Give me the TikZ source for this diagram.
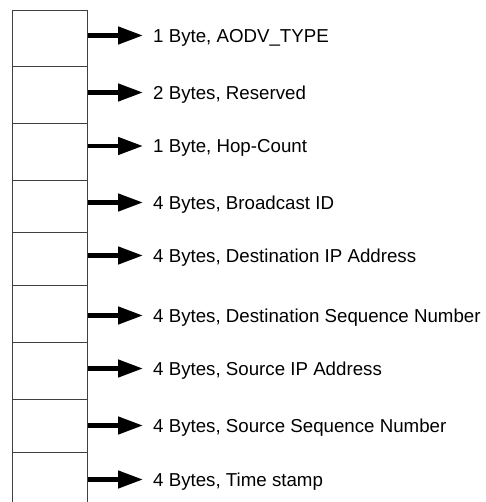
\documentclass[tikz,border=0pt]{standalone}
\usepackage{fontspec}
\setmainfont{Liberation Sans}
\usetikzlibrary{arrows.meta}
\begin{document}
\begin{tikzpicture}[x=1pt,y=-1pt,
  field/.style={draw=black!75, line width=1.1pt, rectangle, minimum width=75.5pt, inner sep=0pt, anchor=north west},
  lbl/.style={anchor=west, inner sep=0pt, text height=13.4pt, text depth=0pt, font=\fontsize{18.7}{22}\selectfont},
  arr/.style={line width=4.5pt, -{Triangle[length=25pt 0 0,width=17pt 0 0]}}]
\clip (0,0) rectangle (485,502);
\fill[white] (0,0) rectangle (485,502);
% boxes
\node[field, minimum height=56pt] (b1) at (11.5,10) {};
\node[field, minimum height=57pt] (b2) at (11.5,66) {};
\node[field, minimum height=57pt] (b3) at (11.5,123) {};
\node[field, minimum height=52pt] (b4) at (11.5,180) {};
\node[field, minimum height=53pt] (b5) at (11.5,232) {};
\node[field, minimum height=57pt] (b6) at (11.5,285) {};
\node[field, minimum height=57pt] (b7) at (11.5,342) {};
\node[field, minimum height=53pt] (b8) at (11.5,399) {};
\node[field, minimum height=60pt] (b9) at (11.5,452) {};
% labels
\node[lbl] (t1) at (153,35.5) {1 Byte, AODV\_TYPE};
\node[lbl] (t2) at (153,92.5) {2 Bytes, Reserved};
\node[lbl] (t3) at (153,146) {1 Byte, Hop-Count};
\node[lbl] (t4) at (153,202.5) {4 Bytes, Broadcast ID};
\node[lbl] (t5) at (153,255.5) {4 Bytes, Destination IP Address};
\node[lbl] (t6) at (153,315.5) {4 Bytes, Destination Sequence Number};
\node[lbl] (t7) at (153,368.5) {4 Bytes, Source IP Address};
\node[lbl] (t8) at (153,425.5) {4 Bytes, Source Sequence Number};
\node[lbl] (t9) at (153,479.5) {4 Bytes, Time stamp};
% arrows
\foreach \i in {1,...,9}{
  \draw[arr] (b\i.east |- t\i.west) -- ([xshift=-10pt]t\i.west);
}
\end{tikzpicture}
\end{document}
